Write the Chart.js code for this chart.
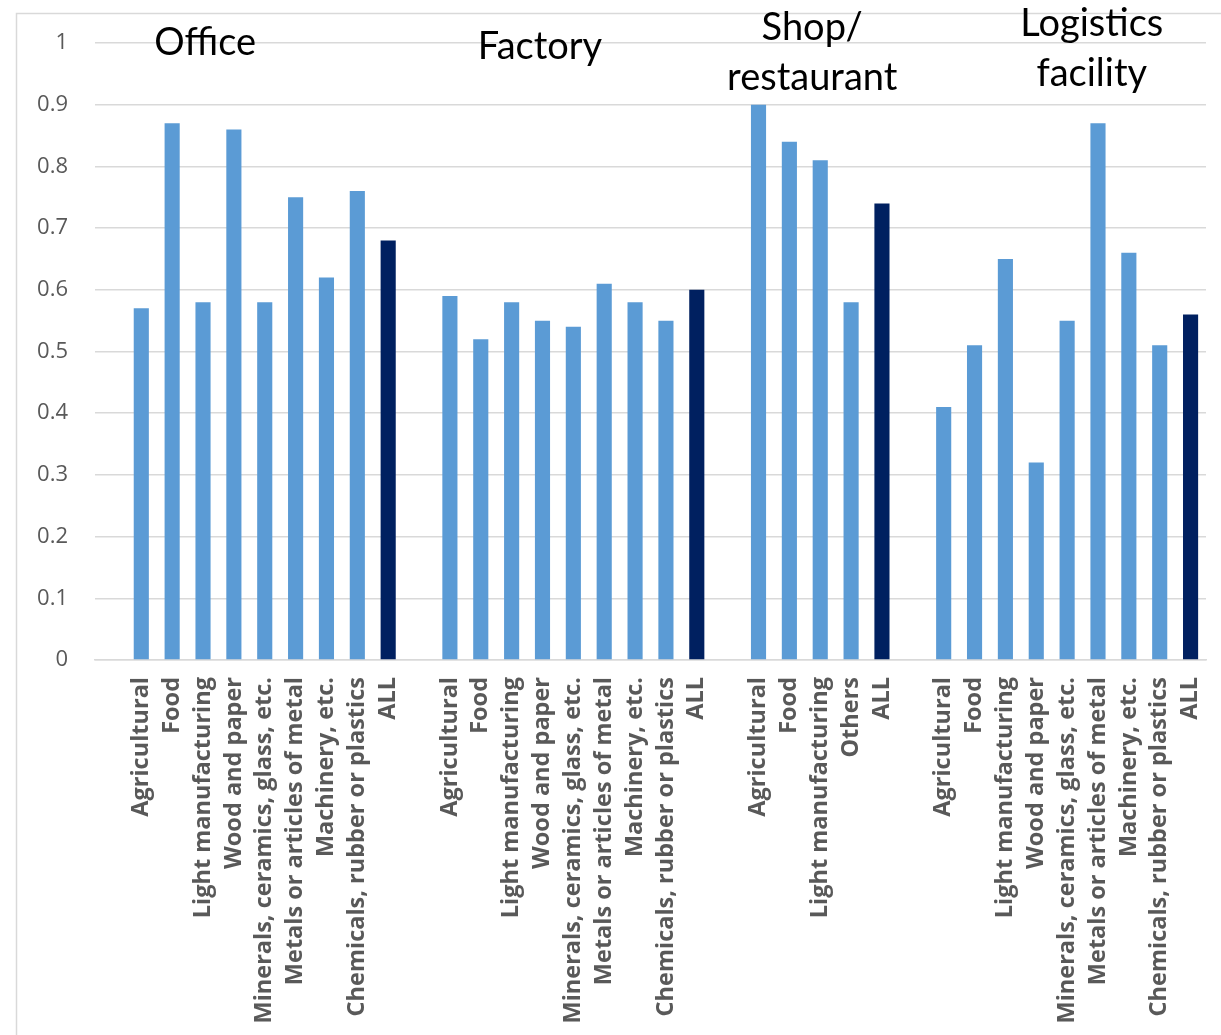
<!DOCTYPE html>
<html>
<head>
<meta charset="utf-8">
<script src="https://cdn.jsdelivr.net/npm/chart.js@4.4.1/dist/chart.umd.min.js"></script>
<style>
  html, body { margin: 0; padding: 0; background: #fff; }
  #wrap { width: 1221px; height: 1035px; position: relative; }
</style>
</head>
<body>
<div id="wrap"><canvas id="chart"></canvas></div>
<script>
// category names per building type
const industryLabels = ['Agricultural', 'Food', 'Light manufacturing', 'Wood and paper',
  'Minerals, ceramics, glass, etc.', 'Metals or articles of metal', 'Machinery, etc.',
  'Chemicals, rubber or plastics', 'ALL'];
const shopLabels = ['Agricultural', 'Food', 'Light manufacturing', 'Others', 'ALL'];

// values
const officeValues    = [0.57, 0.87, 0.58, 0.86, 0.58, 0.75, 0.62, 0.76, 0.68];
const factoryValues   = [0.59, 0.52, 0.58, 0.55, 0.54, 0.61, 0.58, 0.55, 0.60];
const shopValues      = [0.90, 0.84, 0.81, 0.58, 0.74];
const logisticsValues = [0.41, 0.51, 0.65, 0.32, 0.55, 0.87, 0.66, 0.51, 0.56];

const yTicks = [0, 0.1, 0.2, 0.3, 0.4, 0.5, 0.6, 0.7, 0.8, 0.9, 1];

// group titles: text lines, anchor category index, anchor y value
const groupTitles = [
  { lines: ['Office'], at: 3.07, y: 1.0 },
  { lines: ['Factory'], at: 13.92, y: 0.994 },
  { lines: ['Shop/', 'restaurant'], at: 22.74, y: 1.024 },
  { lines: ['Logistics', 'facility'], at: 31.8, y: 1.032 }
];

const lightBlue = '#5B9BD5';
const darkBlue = '#002060';

// one blank slot before every group
const labels = [];
const values = [];
[[industryLabels, officeValues], [industryLabels, factoryValues],
 [shopLabels, shopValues], [industryLabels, logisticsValues]].forEach(([l, v]) => {
  labels.push('');
  values.push(null);
  l.forEach((name, i) => { labels.push(name); values.push(v[i]); });
});
const barColors = labels.map(l => l === 'ALL' ? darkBlue : lightBlue);

const framePlugin = {
  id: 'frame',
  beforeDraw(chart) {
    const ctx = chart.ctx;
    ctx.save();
    ctx.fillStyle = '#fff';
    ctx.fillRect(0, 0, chart.width, chart.height);
    ctx.strokeStyle = '#d9d9d9';
    ctx.lineWidth = 1.5;
    ctx.strokeRect(16.5, 13.5, chart.width + 20, chart.height + 20);
    ctx.restore();
  },
  afterDraw(chart) {
    const ctx = chart.ctx;
    const x = chart.scales.x, y = chart.scales.y;
    ctx.save();
    ctx.fillStyle = '#000';
    ctx.font = '38px Lato';
    ctx.textAlign = 'center';
    ctx.textBaseline = 'middle';
    groupTitles.forEach(t => {
      const px = x.getPixelForValue(t.at);
      const py = y.getPixelForValue(t.y);
      t.lines.forEach((line, i) => ctx.fillText(line, px, py + i * 50));
    });
    ctx.restore();
  }
};

new Chart(document.getElementById('chart'), {
  type: 'bar',
  data: {
    labels: labels,
    datasets: [{
      data: values,
      backgroundColor: barColors,
      borderWidth: 0,
      barPercentage: 0.49,
      categoryPercentage: 1
    }]
  },
  plugins: [framePlugin],
  options: {
    responsive: true,
    maintainAspectRatio: false,
    animation: false,
    layout: { padding: { top: 43, right: 15, left: 0, bottom: 0 } },
    plugins: { legend: { display: false }, tooltip: { enabled: false } },
    scales: {
      x: {
        grid: { display: false },
        border: { display: true, color: '#d9d9d9', width: 1.5 },
        ticks: {
          autoSkip: false,
          minRotation: 90,
          maxRotation: 90,
          padding: 9,
          color: '#595959',
          font: { family: 'Open Sans', size: 23.5, weight: 'bold' }
        },
        afterFit(scale) {
          scale.height = 375;
          scale.paddingLeft = 0;
          scale.paddingRight = 0;
        }
      },
      y: {
        min: 0,
        max: 1,
        afterBuildTicks(scale) { scale.ticks = yTicks.map(v => ({ value: v })); },
        grid: { color: '#d9d9d9', lineWidth: 1.5, drawTicks: false },
        border: { display: false },
        ticks: {
          padding: 27,
          color: '#595959',
          font: { family: 'Open Sans', size: 22 },
          callback: v => String(Math.round(v * 10) / 10)
        },
        afterFit(scale) {
          scale.width = 95;
          scale.paddingTop = 0;
          scale.paddingBottom = 0;
        }
      }
    }
  }
});
</script>
</body>
</html>
